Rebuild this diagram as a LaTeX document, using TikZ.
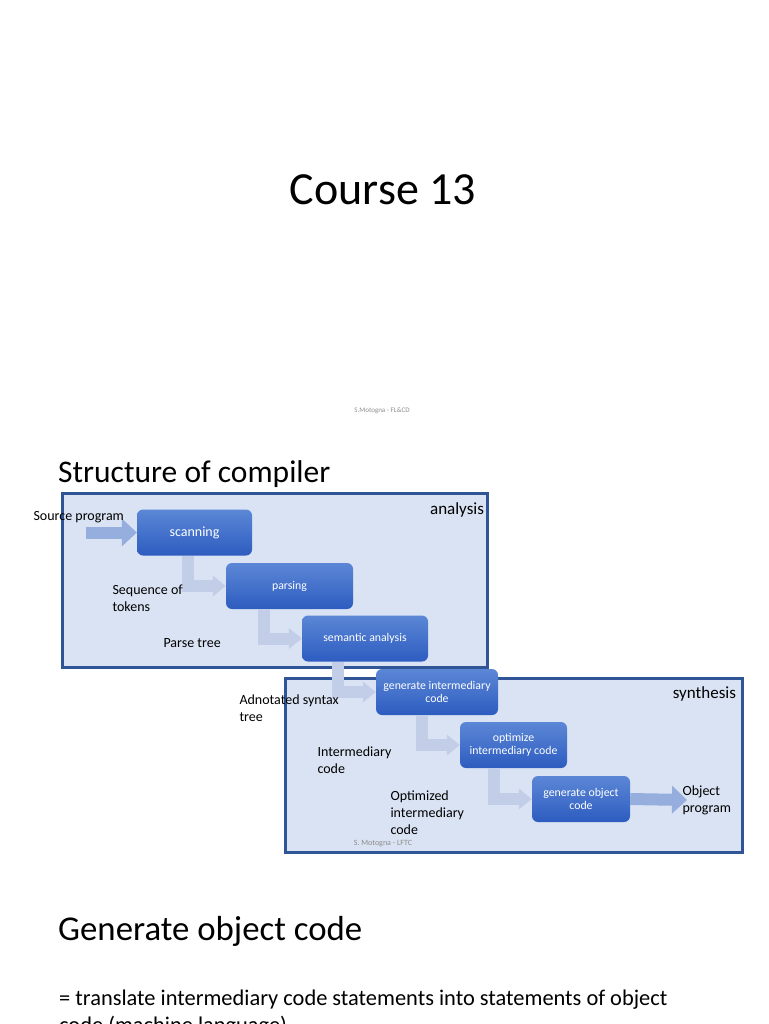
\documentclass[tikz,border=0pt]{standalone}
\usepackage{fontspec}
\setmainfont{Carlito}
\usepackage{xcolor}
\usetikzlibrary{arrows.meta,positioning}

\definecolor{panelfill}{HTML}{DAE3F3}
\definecolor{paneldraw}{HTML}{2F5597}
\definecolor{stagetop}{HTML}{5C87D6}
\definecolor{stagebot}{HTML}{2D5CC0}
\definecolor{flowband}{HTML}{C2CDE8}
\definecolor{ioband}{HTML}{95AEDD}
\definecolor{footgray}{HTML}{8C8C8C}

\newcommand{\fsz}[2]{\fontsize{#1}{#2}\selectfont}

\begin{document}
\begin{tikzpicture}[
        x=1pt, y=-1pt,
        panel/.style={draw=paneldraw, line width=3pt, fill=panelfill},
        stage/.style={rounded corners=6pt, top color=stagetop, bottom color=stagebot, text=white, align=center, inner sep=2pt, minimum height=46pt, font=\fsz{11.8}{13}},
        lbl/.style={anchor=west, align=left, font=\fsz{14}{17}},
        flow/.style={draw=flowband, line width=12pt, line join=miter, -{Triangle[width=21pt, length=13pt, line width=0pt]}},
        io/.style={draw=ioband, line width=12pt, -{Triangle[width=28pt, length=15pt, line width=0pt]}}
    ]
    \useasboundingbox (0,0) rectangle (768,1024);
    \clip (0,0) rectangle (768,1024);

    % TITLES
    \node[anchor=base, font=\fsz{46}{55}] (course) at (383,205) {Course 13};
    \node[font=\fsz{7}{8}, text=footgray] (foot1) at (382,411) {S.Motogna - FL\&CD};
    \node[anchor=base west, inner sep=0pt, font=\fsz{31.5}{37}] (struct) at (58,482) {Structure of compiler};

    % PANELS
    \node[panel, minimum width=425pt, minimum height=174pt] (ana) at (274.5,580) {};
    \node[panel, minimum width=457pt, minimum height=174pt] (syn) at (513.5,765) {};
    \node[anchor=north east, font=\fsz{17}{20}] (analbl) at ([xshift=-1pt, yshift=-8pt]ana.north east) {analysis};
    \node[anchor=north east, font=\fsz{17}{20}] (synlbl) at ([xshift=-4pt, yshift=-7pt]syn.north east) {synthesis};

    % STAGES
    \node[stage, minimum width=115pt, font=\fsz{14}{16}] (scan) at (194.5,532.5) {scanning};
    \node[stage, minimum width=127pt] (pars) at (289.5,586) {parsing};
    \node[stage, minimum width=126pt] (sem) at (365,638.5) {semantic analysis};
    \node[stage, minimum width=122pt] (gint) at (437,692) {generate intermediary\\ code};
    \node[stage, minimum width=107pt] (opt) at (513.5,745) {optimize\\ intermediary code};
    \node[stage, minimum width=98pt] (gobj) at (581,799) {generate object\\ code};

    % FLOW BETWEEN STAGES
    \foreach \a/\b in {scan/pars, pars/sem, sem/gint, gint/opt, opt/gobj}
        \draw[flow] ([xshift=-38pt]\b.west |- \a.south) |- (\b.west);

    % INPUT / OUTPUT
    \coordinate (srcin) at (86,532.5);
    \coordinate (objout) at (687,800);
    \draw[io] (srcin) -- (scan.west);
    \draw[io] (gobj.east) -- (objout);

    % LABELS
    \node[lbl] (srclbl) at (30,517) {Source program};
    \node[lbl] (toklbl) at (109,598) {Sequence of\\ tokens};
    \node[lbl] (ptlbl) at (160,643) {Parse tree};
    \node[lbl] (astlbl) at (236,708) {Adnotated syntax\\ tree};
    \node[lbl] (irlbl) at (314,760) {Intermediary\\ code};
    \node[lbl] (oirlbl) at (387,813) {Optimized\\ intermediary\\ code};
    \node[lbl] (objlbl) at (679,800.5) {Object\\ program};
    \node[font=\fsz{8}{9}, text=footgray] (foot2) at (383,844) {S. Motogna - LFTC};

    % NEXT SLIDE
    \node[anchor=base west, inner sep=0pt, font=\fsz{34.8}{40}] (gen) at (58,940) {Generate object code};
    \node[anchor=base west, inner sep=0pt, font=\fsz{22.4}{27}] (body1) at (59,1005) {= translate intermediary code statements into statements of object};
    \node[anchor=base west, inner sep=0pt, font=\fsz{22.4}{27}] (body2) at (59,1032) {code (machine language)};
\end{tikzpicture}
\end{document}
